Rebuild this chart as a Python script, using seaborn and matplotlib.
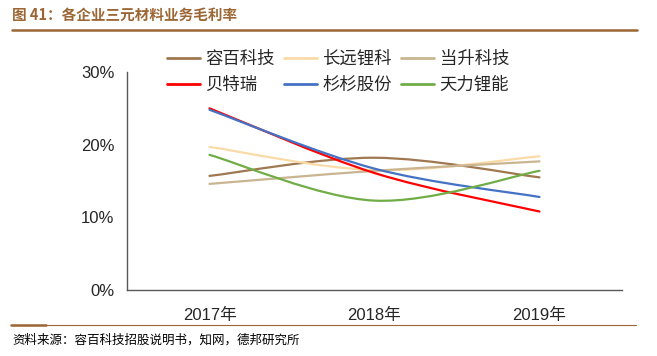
import numpy as np
import pandas as pd
import seaborn as sns
import matplotlib.pyplot as plt
from matplotlib.path import Path
from matplotlib.patches import PathPatch
from matplotlib.lines import Line2D

# data (gross margin, %)
years = ['2017年', '2018年', '2019年']
companies = ['容百科技', '长远锂科', '当升科技', '贝特瑞', '杉杉股份', '天力锂能']
rongbai = [15.7, 18.2, 15.5]
changyuan = [19.7, 16.5, 18.4]
dangsheng = [14.6, 16.4, 17.7]
btr = [25.0, 16.1, 10.8]
shanshan = [24.8, 16.7, 12.8]
tianli = [18.6, 12.3, 16.4]
colors = ['#A07850', '#FADBA8', '#C9B592', '#FF0000', '#4472C4', '#70AD47']

series = [rongbai, changyuan, dangsheng, btr, shanshan, tianli]
rows = []
for name, vals in zip(companies, series):
    for i, v in enumerate(vals):
        rows.append({'company': name, 'idx': i, 'value': v / 100})
df = pd.DataFrame(rows)

sns.set_style('white')
plt.rcParams['font.family'] = ['Liberation Sans', 'Noto Sans CJK SC', 'DejaVu Sans']

fig = plt.figure(figsize=(6.57, 3.56), dpi=100)
ax = fig.add_axes([127 / 657, 1 - 290 / 356, (622 - 127) / 657, (290 - 72) / 356])

sns.lineplot(data=df, x='idx', y='value', hue='company', hue_order=companies,
             palette=colors, ax=ax, legend=False, linewidth=1.6)


def smooth_path(xy):
    # Excel-style bezier smoothing through the points
    n = len(xy)
    verts = [xy[0]]
    codes = [Path.MOVETO]
    for i in range(n - 1):
        p0 = xy[max(i - 1, 0)]
        p1 = xy[i]
        p2 = xy[i + 1]
        p3 = xy[min(i + 2, n - 1)]
        c1 = p1 + (p2 - p0) / 6
        c2 = p2 - (p3 - p1) / 6
        verts += [c1, c2, p2]
        codes += [Path.CURVE4] * 3
    return Path(verts, codes)


for line, c in zip(list(ax.get_lines()), colors):
    xy = line.get_xydata()
    line.set_visible(False)
    ax.add_patch(PathPatch(smooth_path(xy), facecolor='none', edgecolor=c,
                           linewidth=1.6, capstyle='round'))

ax.set_xlim(-0.5, 2.5)
ax.set_ylim(0, 0.30)
ax.set_yticks([0, 0.1, 0.2, 0.3])
ax.set_yticklabels(['0%', '10%', '20%', '30%'], fontsize=12)
ax.set_xticks([0, 1, 2])
ax.set_xticklabels(years, fontsize=12)
ax.set_xticks([-0.5, 0.5, 1.5, 2.5], minor=True)
ax.tick_params(axis='x', which='major', length=0, pad=13)
ax.tick_params(axis='x', which='minor', length=3, color='#595959', width=1)
ax.tick_params(axis='y', length=5, color='#595959', width=1, pad=4)
ax.set_xlabel('')
ax.set_ylabel('')
for s in ['top', 'right']:
    ax.spines[s].set_visible(False)
for s in ['left', 'bottom']:
    ax.spines[s].set_color('#595959')
    ax.spines[s].set_linewidth(1)

# legend fills column by column, so reorder to read row-wise
order = [0, 3, 1, 4, 2, 5]
handles = [Line2D([], [], color=colors[i], linewidth=2) for i in order]
labels = [companies[i] for i in order]
fig.legend(handles, labels, ncol=3, frameon=False,
           loc='upper left', bbox_to_anchor=(167 / 657, 1 - 50 / 356),
           prop={'family': ['Noto Sans CJK SC'], 'size': 12.5},
           handlelength=1.9, handletextpad=0.3, columnspacing=0.55,
           labelspacing=0.45, borderpad=0, borderaxespad=0)

# title and rules
fig.text(12 / 657, 1 - 15 / 356, '图 41：各企业三元材料业务毛利率', color='#9C6634',
         fontsize=10.5, fontweight='bold', va='center', ha='left',
         family=['Noto Sans CJK SC'])
fig.add_artist(Line2D([12 / 657, 637 / 657], [1 - 30 / 356, 1 - 30 / 356],
                      color='#9C6634', linewidth=1.8))
fig.add_artist(Line2D([11 / 657, 636 / 657], [1 - 325 / 356, 1 - 325 / 356],
                      color='#9C6634', linewidth=0.8))
fig.add_artist(Line2D([11 / 657, 46 / 657], [1 - 325 / 356, 1 - 325 / 356],
                      color='#9C6634', linewidth=1.8))
fig.text(12 / 657, 1 - 340 / 356, '资料来源：容百科技招股说明书，知网，德邦研究所',
         color='black', fontsize=9, va='center', ha='left',
         family=['Noto Sans CJK SC'])

fig.savefig('out.png', dpi=100)
